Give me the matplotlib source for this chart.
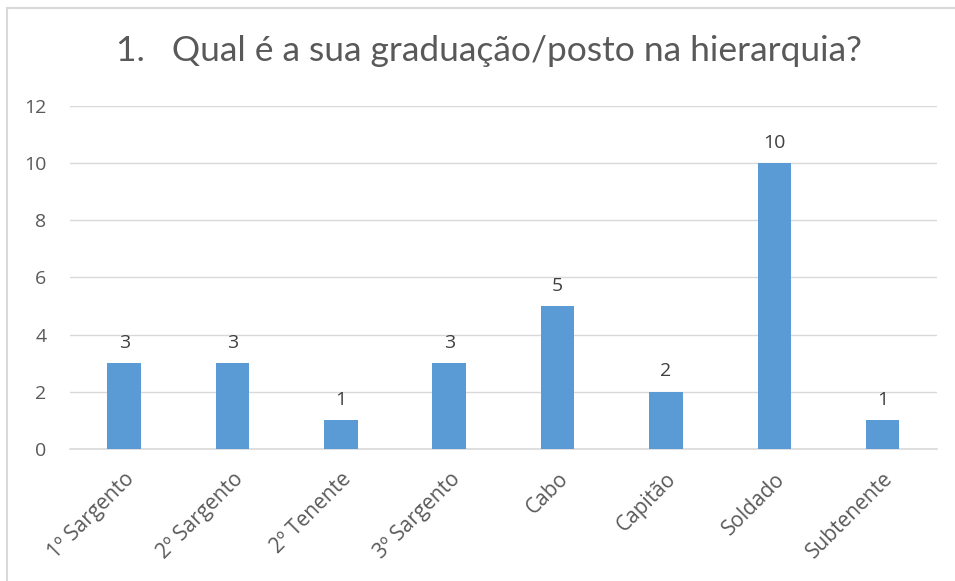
import matplotlib
matplotlib.use("Agg")
import matplotlib.pyplot as plt
from matplotlib.patches import Rectangle

categories = ["1º Sargento", "2º Sargento", "2º Tenente", "3º Sargento",
              "Cabo", "Capitão", "Soldado", "Subtenente"]
values = [3, 3, 1, 3, 5, 2, 10, 1]
yticks = [0, 2, 4, 6, 8, 10, 12]
title = "1.   Qual é a sua graduação/posto na hierarquia?"

plt.rcParams['font.family'] = ['Open Sans', 'DejaVu Sans']
txt = '#595959'

fig = plt.figure(figsize=(9.55, 5.81), dpi=100)
fig.patches.append(Rectangle((6.5 / 955, -0.02), 1.0, 1.0 - 7.5 / 581 + 0.02,
                             transform=fig.transFigure,
                             fill=False, edgecolor='#D9D9D9', linewidth=1.5))
ax = fig.add_axes([0.0733, 0.2272, 0.9077, 0.5904])
x = list(range(len(categories)))
bars = ax.bar(x, values, width=0.31, color='#5B9BD5', zorder=3)
for xi, v in zip(x, values):
    ax.text(xi, v + 0.4, str(v), ha='center', va='bottom', fontsize=14, color='#404040')

ax.set_xlim(-0.5, len(categories) - 0.5)
ax.set_ylim(0, 12)
ax.set_yticks(yticks)
ax.set_yticklabels([str(t) for t in yticks], fontsize=14, color=txt)
ax.set_xticks(x)
ax.set_xticklabels(categories, rotation=45, ha='right', rotation_mode='anchor',
                   fontsize=15, color=txt)
ax.tick_params(axis='both', length=0)
ax.tick_params(axis='y', pad=17)
ax.tick_params(axis='x', pad=14)
ax.grid(axis='y', color='#D9D9D9', linewidth=1, zorder=0)
for s in ['top', 'right', 'left']:
    ax.spines[s].set_visible(False)
ax.spines['bottom'].set_color('#D9D9D9')
ax.spines['bottom'].set_linewidth(1.2)

fig.text(0.512, 0.913, title, ha='center', va='center', fontsize=25.5, color=txt,
         family=['Lato', 'DejaVu Sans'])

fig.savefig('out.png', dpi=100)
